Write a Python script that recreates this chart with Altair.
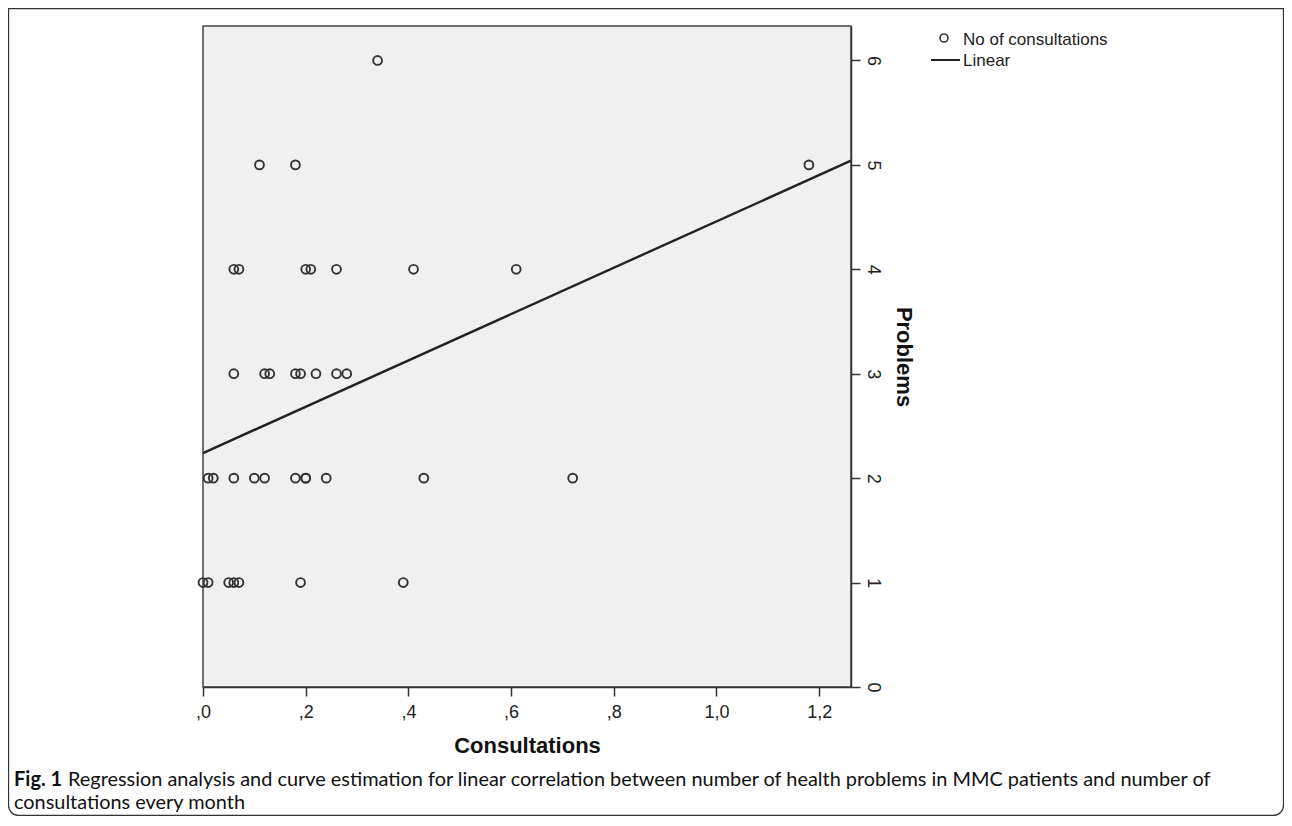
import altair as alt
import pandas as pd

# ---- data ----
consult_p1 = [0.00, 0.01, 0.05, 0.06, 0.07, 0.19, 0.39]
consult_p2 = [0.01, 0.02, 0.06, 0.10, 0.12, 0.18, 0.20, 0.20, 0.24, 0.43, 0.72]
consult_p3 = [0.06, 0.12, 0.13, 0.18, 0.19, 0.22, 0.26, 0.28]
consult_p4 = [0.06, 0.07, 0.20, 0.21, 0.26, 0.41, 0.61]
consult_p5 = [0.11, 0.18, 1.18]
consult_p6 = [0.34]

line_consult = [0.0, 1.262]
line_problems = [2.24, 5.04]

x_ticks = [0.0, 0.2, 0.4, 0.6, 0.8, 1.0, 1.2]
y_ticks = [0, 1, 2, 3, 4, 5, 6]
x_domain = [0.0, 1.262]
y_domain = [0.0, 6.33]

legend_labels = ["No of consultations", "Linear"]
caption_bold = "Fig. 1"
caption_line1 = "Regression analysis and curve estimation for linear correlation between number of health problems in MMC patients and number of"
caption_line2 = "consultations every month"

rows = []
for prob, xs in zip([1, 2, 3, 4, 5, 6],
                    [consult_p1, consult_p2, consult_p3, consult_p4, consult_p5, consult_p6]):
    for v in xs:
        rows.append({"Consultations": v, "Problems": prob})
pts = pd.DataFrame(rows)
line_df = pd.DataFrame({"Consultations": line_consult, "Problems": line_problems})
one = pd.DataFrame({"a": [0]})

AX = "Liberation Sans"
CAP = "Lato"

xlab = ("datum.value < 1 ? ',' + substring(format(datum.value, '.1f'), 2) "
        ": replace(format(datum.value, '.1f'), '.', ',')")

x_enc = alt.X("Consultations:Q",
              scale=alt.Scale(domain=x_domain, nice=False, zero=False),
              axis=alt.Axis(values=x_ticks, labelExpr=xlab, title="Consultations",
                            grid=False, tickSize=9, labelPadding=7, titlePadding=14,
                            labelFontSize=18, titleFontSize=22, titleFontWeight="bold",
                            labelFont=AX, titleFont=AX, labelColor="#222", titleColor="#111",
                            domainColor="#333", tickColor="#333", domainWidth=1.5,
                            tickWidth=1.5, labelFlush=False))
y_enc = alt.Y("Problems:Q",
              scale=alt.Scale(domain=y_domain, nice=False, zero=True),
              axis=alt.Axis(orient="right", values=y_ticks, format="d", title="Problems",
                            grid=False, tickSize=9, labelPadding=3, titlePadding=10,
                            labelAngle=90, labelAlign="center", labelBaseline="bottom",
                            titleAngle=90, labelFontSize=18, titleFontSize=22,
                            titleFontWeight="bold", labelFont=AX, titleFont=AX,
                            labelColor="#222", titleColor="#111",
                            domainColor="#333", tickColor="#333", domainWidth=1.5,
                            tickWidth=1.5, labelFlush=False))

points = alt.Chart(pts).mark_point(shape="circle", filled=False, size=78,
                                   strokeWidth=1.9, color="#333", opacity=1).encode(
    x=x_enc, y=y_enc)

line = alt.Chart(line_df).mark_line(color="#222", strokeWidth=2.4).encode(
    x="Consultations:Q", y="Problems:Q")

# legend (drawn as decoration)
leg_pt = alt.Chart(one).mark_point(shape="circle", filled=False, size=65, strokeWidth=1.6,
                                   color="#333", opacity=1).encode(
    x=alt.value(741), y=alt.value(12))
leg_line = alt.Chart(one).mark_rule(color="#222", strokeWidth=2).encode(
    x=alt.value(728), x2=alt.value(757), y=alt.value(34))
leg_t1 = alt.Chart(one).mark_text(text=legend_labels[0], align="left", baseline="middle",
                                  font=AX, fontSize=17, color="#222").encode(
    x=alt.value(760), y=alt.value(14))
leg_t2 = alt.Chart(one).mark_text(text=legend_labels[1], align="left", baseline="middle",
                                  font=AX, fontSize=17, color="#222").encode(
    x=alt.value(760), y=alt.value(35))

# caption
cap_b = alt.Chart(one).mark_text(text=caption_bold, align="left", baseline="middle",
                                 font=CAP, fontSize=20, fontWeight="bold", color="#111").encode(
    x=alt.value(-189), y=alt.value(754))
cap_1 = alt.Chart(one).mark_text(text=caption_line1, align="left", baseline="middle",
                                 font=CAP, fontSize=19.9, color="#111").encode(
    x=alt.value(-135), y=alt.value(754))
cap_2 = alt.Chart(one).mark_text(text=caption_line2, align="left", baseline="middle",
                                 font=CAP, fontSize=19.9, color="#111").encode(
    x=alt.value(-189), y=alt.value(777))

border = alt.Chart(one).mark_rect(fillOpacity=0, stroke="#333", strokeWidth=1.3,
                                  cornerRadiusBottomLeft=10, cornerRadiusBottomRight=10).encode(
    x=alt.value(-194.5), x2=alt.value(1080.5), y=alt.value(-17.5), y2=alt.value(789.5))

chart = alt.layer(points, line, leg_pt, leg_line, leg_t1, leg_t2, cap_b, cap_1, cap_2, border).properties(
    width=648, height=661,
    autosize=alt.AutoSizeParams(type="none"),
    padding={"left": 195, "top": 18, "right": 433, "bottom": 129},
    background="white",
).configure_view(fill="#f0f0f0", stroke="#444", strokeWidth=1.5)

chart.save("out.html", embed_options={"renderer": "svg", "actions": False})
